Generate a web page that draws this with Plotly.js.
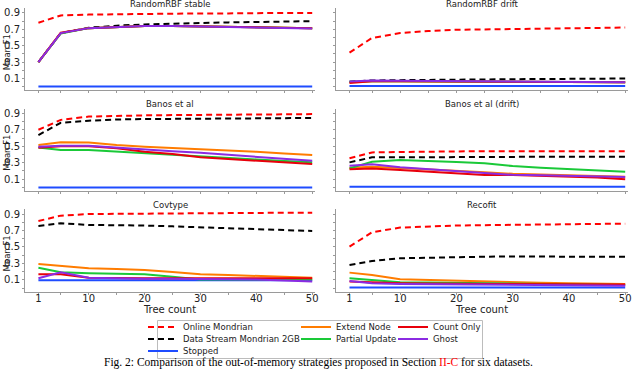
<!DOCTYPE html>
<html>
<head>
<meta charset="utf-8">
<script src="https://cdn.plot.ly/plotly-3.0.1.min.js"></script>
<style>
  html, body { margin: 0; padding: 0; background: #fff; }
  #chart { width: 640px; height: 372px; background: #fff; }
</style>
</head>
<body>
<div id="chart"></div>
<script>
// tree counts on the x axis
const treeCounts = [1, 5, 10, 15, 20, 25, 30, 35, 40, 45, 50];
const xTickText = ['1', '', '10', '', '20', '', '30', '', '40', '', '50'];
const yTickVals = [0, 0.1, 0.2, 0.3, 0.4, 0.5, 0.6, 0.7, 0.8, 0.9];
const yTickText = ['', '0.1', '', '0.3', '', '0.5', '', '0.7', '', '0.9'];

const panelTitles = ['RandomRBF stable', 'RandomRBF drift', 'Banos et al', 'Banos et al (drift)', 'Covtype', 'Recofit'];
const strategies = ['Online Mondrian', 'Data Stream Mondrian 2GB', 'Stopped', 'Extend Node', 'Partial Update', 'Count Only', 'Ghost'];

// mean F1 per panel, one array per strategy
const rbfStable = {
  online:  [0.78, 0.87, 0.88, 0.885, 0.89, 0.89, 0.895, 0.895, 0.9, 0.9, 0.9],
  dsm:     [0.3, 0.655, 0.72, 0.745, 0.76, 0.77, 0.78, 0.785, 0.79, 0.795, 0.8],
  stopped: [0.003, 0.003, 0.003, 0.003, 0.003, 0.003, 0.003, 0.003, 0.003, 0.003, 0.003],
  extend:  [0.3, 0.655, 0.715, 0.73, 0.74, 0.74, 0.735, 0.73, 0.725, 0.72, 0.715],
  partial: [0.3, 0.65, 0.715, 0.73, 0.74, 0.74, 0.735, 0.73, 0.725, 0.72, 0.715],
  count:   [0.3, 0.66, 0.715, 0.73, 0.74, 0.74, 0.735, 0.73, 0.725, 0.72, 0.715],
  ghost:   [0.3, 0.655, 0.715, 0.73, 0.74, 0.74, 0.735, 0.73, 0.725, 0.72, 0.712]
};
const rbfDrift = {
  online:  [0.415, 0.595, 0.655, 0.68, 0.695, 0.7, 0.71, 0.715, 0.718, 0.72, 0.722],
  dsm:     [0.062, 0.076, 0.08, 0.085, 0.087, 0.09, 0.092, 0.094, 0.096, 0.098, 0.1],
  stopped: [0.008, 0.008, 0.008, 0.008, 0.008, 0.008, 0.008, 0.008, 0.008, 0.008, 0.008],
  extend:  [0.055, 0.07, 0.068, 0.066, 0.064, 0.062, 0.06, 0.058, 0.056, 0.055, 0.054],
  partial: [0.06, 0.068, 0.066, 0.064, 0.062, 0.06, 0.058, 0.057, 0.056, 0.055, 0.054],
  count:   [0.045, 0.068, 0.066, 0.064, 0.062, 0.06, 0.058, 0.057, 0.056, 0.055, 0.054],
  ghost:   [0.065, 0.075, 0.072, 0.07, 0.068, 0.066, 0.064, 0.062, 0.06, 0.057, 0.055]
};
const banos = {
  online:  [0.7, 0.82, 0.86, 0.87, 0.875, 0.878, 0.88, 0.884, 0.886, 0.888, 0.89],
  dsm:     [0.635, 0.785, 0.81, 0.825, 0.83, 0.833, 0.835, 0.838, 0.84, 0.842, 0.843],
  stopped: [0.0, 0.0, 0.0, 0.0, 0.0, 0.0, 0.0, 0.0, 0.0, 0.0, 0.0],
  extend:  [0.514, 0.547, 0.545, 0.514, 0.494, 0.48, 0.466, 0.45, 0.433, 0.413, 0.393],
  partial: [0.486, 0.453, 0.453, 0.433, 0.413, 0.393, 0.372, 0.356, 0.34, 0.322, 0.305],
  count:   [0.482, 0.5, 0.5, 0.474, 0.433, 0.405, 0.365, 0.344, 0.324, 0.303, 0.283],
  ghost:   [0.494, 0.506, 0.506, 0.482, 0.46, 0.44, 0.42, 0.396, 0.372, 0.347, 0.323]
};
const banosDrift = {
  online:  [0.353, 0.425, 0.43, 0.435, 0.438, 0.44, 0.44, 0.44, 0.44, 0.44, 0.44],
  dsm:     [0.304, 0.365, 0.365, 0.368, 0.37, 0.37, 0.37, 0.372, 0.372, 0.372, 0.372],
  stopped: [0.007, 0.007, 0.007, 0.007, 0.007, 0.007, 0.007, 0.007, 0.007, 0.007, 0.007],
  extend:  [0.24, 0.25, 0.235, 0.22, 0.205, 0.185, 0.165, 0.155, 0.145, 0.138, 0.13],
  partial: [0.231, 0.311, 0.332, 0.325, 0.31, 0.292, 0.259, 0.24, 0.222, 0.205, 0.19],
  count:   [0.219, 0.23, 0.21, 0.19, 0.175, 0.15, 0.15, 0.142, 0.135, 0.12, 0.1],
  ghost:   [0.263, 0.28, 0.245, 0.22, 0.198, 0.175, 0.153, 0.147, 0.14, 0.132, 0.125]
};
const covtype = {
  online:  [0.815, 0.88, 0.9, 0.903, 0.905, 0.908, 0.91, 0.912, 0.913, 0.915, 0.915],
  dsm:     [0.755, 0.787, 0.767, 0.765, 0.76, 0.75, 0.74, 0.73, 0.72, 0.71, 0.694],
  stopped: [0.095, 0.095, 0.095, 0.095, 0.095, 0.095, 0.095, 0.095, 0.095, 0.095, 0.095],
  extend:  [0.294, 0.27, 0.242, 0.232, 0.221, 0.195, 0.169, 0.16, 0.149, 0.138, 0.128],
  partial: [0.249, 0.193, 0.181, 0.175, 0.169, 0.14, 0.105, 0.105, 0.105, 0.105, 0.105],
  count:   [0.169, 0.169, 0.128, 0.122, 0.12, 0.12, 0.12, 0.12, 0.12, 0.12, 0.12],
  ghost:   [0.12, 0.193, 0.128, 0.12, 0.115, 0.115, 0.115, 0.11, 0.105, 0.095, 0.08]
};
const recofit = {
  online:  [0.504, 0.678, 0.735, 0.75, 0.76, 0.765, 0.77, 0.775, 0.778, 0.78, 0.783],
  dsm:     [0.282, 0.33, 0.363, 0.372, 0.379, 0.382, 0.385, 0.385, 0.385, 0.383, 0.38],
  stopped: [0.008, 0.008, 0.008, 0.008, 0.008, 0.008, 0.008, 0.008, 0.008, 0.008, 0.008],
  extend:  [0.189, 0.16, 0.108, 0.098, 0.088, 0.08, 0.072, 0.066, 0.06, 0.056, 0.052],
  partial: [0.12, 0.1, 0.072, 0.068, 0.065, 0.062, 0.06, 0.055, 0.05, 0.045, 0.04],
  count:   [0.08, 0.068, 0.06, 0.056, 0.054, 0.052, 0.05, 0.048, 0.047, 0.046, 0.045],
  ghost:   [0.088, 0.06, 0.052, 0.048, 0.045, 0.042, 0.04, 0.038, 0.035, 0.033, 0.031]
};

const panels = [rbfStable, rbfDrift, banos, banosDrift, covtype, recofit];
const keys = ['online', 'dsm', 'stopped', 'extend', 'partial', 'count', 'ghost'];
const colors = ['#ff0000', '#000000', '#1f4cff', '#ff7c00', '#1ac938', '#e8000b', '#8b2be2'];
const dashed = [true, true, false, false, false, false, false];

// 640x372 canvas, domains measured in pixels
const W = 640, H = 372;
const colsPx = [[25, 315], [336, 628]];
const rowsPx = [[8.3, 90], [108.6, 190.7], [209.3, 291.5]];

// legend placement (left edge, row centre) per strategy
const legendPos = [[143, 327], [143, 339], [143, 351], [296, 327], [296, 339], [393, 327], [393, 339]];

const traces = [];
panels.forEach((panel, p) => {
  const ax = p === 0 ? '' : String(p + 1);
  keys.forEach((k, i) => {
    traces.push({
      x: treeCounts,
      y: panel[k],
      xaxis: 'x' + ax,
      yaxis: 'y' + ax,
      type: 'scatter',
      mode: 'lines',
      name: strategies[i],
      line: { color: colors[i], width: 2, dash: dashed[i] ? '6px,4px' : 'solid' },
      showlegend: p === 0,
      legend: i === 0 ? 'legend' : 'legend' + (i + 1),
      hoverinfo: 'skip'
    });
  });
});

const axisColor = '#9a9a9a';
const font = 'DejaVu Sans, sans-serif';

// transparent paper so the legend boxes cannot paint over the frame; the page behind is white
const layout = {
  width: W,
  height: H,
  margin: { l: 0, r: 0, t: 0, b: 0 },
  paper_bgcolor: 'rgba(0,0,0,0)',
  plot_bgcolor: 'rgba(0,0,0,0)',
  font: { family: font, size: 9, color: '#222' },
  annotations: [],
  // light frame round the legend entries
  shapes: [{
    type: 'rect', xref: 'paper', yref: 'paper',
    x0: 157.5 / W, x1: 482.5 / W, y0: 1 - 358.5 / H, y1: 1 - 320.5 / H,
    line: { color: '#bcbcbc', width: 1 }
  }]
};

panels.forEach((panel, p) => {
  const col = p % 2, row = Math.floor(p / 2);
  const ax = p === 0 ? '' : String(p + 1);
  const [x0, x1] = colsPx[col];
  const [y0, y1] = rowsPx[row];
  layout['xaxis' + ax] = {
    domain: [x0 / W, x1 / W],
    anchor: 'y' + ax,
    range: [-1.4, 50.5],
    tickvals: treeCounts,
    ticktext: xTickText,
    showticklabels: row === 2,
    ticks: 'outside', ticklen: 2, tickcolor: axisColor, tickwidth: 1,
    ticklabelstandoff: -5,
    showline: true, linecolor: axisColor, linewidth: 1,
    showgrid: false, zeroline: false,
    tickfont: { size: 10, color: '#222' },
    title: row === 2 ? { text: 'Tree count', font: { size: 10 }, standoff: 0 } : { text: '' }
  };
  layout['yaxis' + ax] = {
    domain: [1 - y1 / H, 1 - y0 / H],
    anchor: 'x' + ax,
    range: [-0.04, 0.957],
    tickvals: yTickVals,
    ticktext: yTickText,
    showticklabels: col === 0,
    ticks: 'outside', ticklen: 2, tickcolor: axisColor, tickwidth: 1,
    showline: true, linecolor: axisColor, linewidth: 1,
    showgrid: false, zeroline: false,
    tickfont: { size: 10, color: '#222' }
  };
  layout.annotations.push({
    text: panelTitles[p],
    xref: 'paper', yref: 'paper',
    x: (x0 + x1) / 2 / W, y: 1 - (y0 - 4.2) / H,
    xanchor: 'center', yanchor: 'middle',
    showarrow: false,
    font: { size: 8.5, color: '#222' }
  });
  if (col === 0) {
    layout.annotations.push({
      text: 'Mean F1',
      xref: 'paper', yref: 'paper',
      x: 0, y: 1 - ((y0 + y1) / 2 + 3) / H,
      xanchor: 'left', yanchor: 'middle',
      textangle: -90,
      showarrow: false,
      font: { size: 8.5, color: '#222' }
    });
  }
});

// one small legend per entry so the three columns line up as in the figure
legendPos.forEach(([lx, ly], i) => {
  const name = i === 0 ? 'legend' : 'legend' + (i + 1);
  layout[name] = {
    x: lx / W, y: 1 - ly / H,
    xanchor: 'left', yanchor: 'middle',
    xref: 'paper', yref: 'paper',
    bgcolor: 'rgba(0,0,0,0)', borderwidth: 0,
    font: { size: 8.5, color: '#222' },
    orientation: 'v'
  };
});

layout.annotations.push({
  text: 'Fig. 2: Comparison of the out-of-memory strategies proposed in Section <span style="color:#ff0000">II-C</span> for six datasets.',
  xref: 'paper', yref: 'paper',
  x: 318 / W, y: 1 - 362 / H,
  xanchor: 'center', yanchor: 'middle',
  showarrow: false,
  font: { family: 'Liberation Serif, Times New Roman, serif', size: 11.5, color: '#000' }
});

Plotly.newPlot('chart', traces, layout, { displayModeBar: false, staticPlot: true });
</script>
</body>
</html>
